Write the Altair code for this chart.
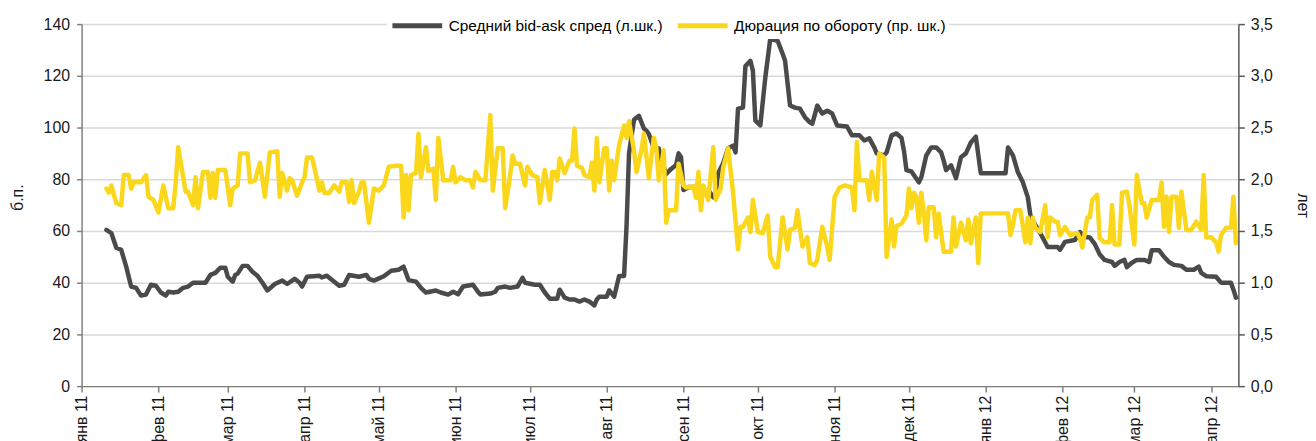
import altair as alt
import pandas as pd

FONT = "'Liberation Sans', Arial, sans-serif"
FS = 16
LEGEND_FS = 15.5

SPREAD_NAME = "Средний bid-ask спред  (л.шк.)"
DUR_NAME = "Дюрация по обороту (пр. шк.)"
MONTHS = ["янв", "фев", "мар", "апр", "май", "июн", "июл", "авг", "сен", "окт", "ноя", "дек"]
TICK_MONTHS = [(2011, m) for m in range(1, 13)] + [(2012, m) for m in range(1, 5)]
LEFT_TICKS = [0, 20, 40, 60, 80, 100, 120, 140]
RIGHT_TICKS = [0.0, 0.5, 1.0, 1.5, 2.0, 2.5, 3.0, 3.5]

spread_dates = [
    "2011-01-11", "2011-01-13", "2011-01-15", "2011-01-17", "2011-01-19", "2011-01-21", "2011-01-23", "2011-01-25", "2011-01-27", "2011-01-29", "2011-01-31",
    "2011-02-02", "2011-02-04", "2011-02-05", "2011-02-07", "2011-02-09", "2011-02-11", "2011-02-13", "2011-02-15", "2011-02-17", "2011-02-20", "2011-02-22", "2011-02-24", "2011-02-26", "2011-02-28",
    "2011-03-01", "2011-03-03", "2011-03-04", "2011-03-05", "2011-03-07", "2011-03-09", "2011-03-11", "2011-03-13", "2011-03-15", "2011-03-17", "2011-03-20", "2011-03-23", "2011-03-25", "2011-03-28", "2011-03-30", "2011-03-31",
    "2011-04-02", "2011-04-07", "2011-04-08", "2011-04-10", "2011-04-15", "2011-04-17", "2011-04-19", "2011-04-23", "2011-04-26", "2011-04-27", "2011-04-29",
    "2011-05-03", "2011-05-06", "2011-05-09", "2011-05-11", "2011-05-13", "2011-05-16", "2011-05-18", "2011-05-20", "2011-05-24", "2011-05-26", "2011-05-29", "2011-05-31",
    "2011-06-02", "2011-06-04", "2011-06-08", "2011-06-10", "2011-06-11", "2011-06-15", "2011-06-17", "2011-06-18", "2011-06-21", "2011-06-23", "2011-06-26", "2011-06-28", "2011-06-29",
    "2011-07-03", "2011-07-05", "2011-07-07", "2011-07-09", "2011-07-12", "2011-07-13", "2011-07-15", "2011-07-17", "2011-07-19", "2011-07-21", "2011-07-23", "2011-07-25", "2011-07-27", "2011-07-28", "2011-07-29",
    "2011-08-01", "2011-08-02", "2011-08-04", "2011-08-06", "2011-08-08", "2011-08-09", "2011-08-10", "2011-08-12", "2011-08-14", "2011-08-16", "2011-08-17", "2011-08-18", "2011-08-20", "2011-08-22", "2011-08-23", "2011-08-25", "2011-08-27", "2011-08-29", "2011-08-30", "2011-08-31",
    "2011-09-01", "2011-09-03", "2011-09-06", "2011-09-07", "2011-09-09", "2011-09-11", "2011-09-13", "2011-09-14", "2011-09-15", "2011-09-17", "2011-09-19", "2011-09-21", "2011-09-22", "2011-09-23", "2011-09-25", "2011-09-26", "2011-09-28", "2011-09-29", "2011-09-30",
    "2011-10-02", "2011-10-04", "2011-10-06", "2011-10-09", "2011-10-11", "2011-10-12", "2011-10-14", "2011-10-16", "2011-10-18", "2011-10-20", "2011-10-22", "2011-10-23", "2011-10-25", "2011-10-27", "2011-10-29", "2011-10-31",
    "2011-11-02", "2011-11-06", "2011-11-08", "2011-11-11", "2011-11-13", "2011-11-15", "2011-11-17", "2011-11-18", "2011-11-21", "2011-11-22", "2011-11-24", "2011-11-26", "2011-11-28", "2011-11-29", "2011-11-30",
    "2011-12-02", "2011-12-05", "2011-12-06", "2011-12-08", "2011-12-10", "2011-12-12", "2011-12-14", "2011-12-15", "2011-12-16", "2011-12-18", "2011-12-20", "2011-12-22", "2011-12-24", "2011-12-26", "2011-12-28", "2011-12-30",
    "2012-01-09", "2012-01-10", "2012-01-12", "2012-01-14", "2012-01-16", "2012-01-18", "2012-01-19", "2012-01-21", "2012-01-23", "2012-01-26", "2012-01-30", "2012-01-31",
    "2012-02-02", "2012-02-06", "2012-02-08", "2012-02-10", "2012-02-12", "2012-02-14", "2012-02-16", "2012-02-18", "2012-02-21", "2012-02-22", "2012-02-24", "2012-02-26", "2012-02-27", "2012-02-29",
    "2012-03-02", "2012-03-05", "2012-03-07", "2012-03-08", "2012-03-11", "2012-03-13", "2012-03-15", "2012-03-17", "2012-03-20", "2012-03-22", "2012-03-25", "2012-03-27", "2012-03-28", "2012-03-30",
    "2012-04-03", "2012-04-05", "2012-04-09", "2012-04-10", "2012-04-11",
]
spread_values = [
    60.4, 59.2, 53.5, 52.7, 46.2, 38.5, 38.0, 35.0, 35.4, 39.2, 38.8,
    36.2, 35.0, 36.5, 36.2, 36.5, 38.0, 38.5, 40.0, 40.0, 40.0, 43.0, 43.8, 45.8, 45.8,
    42.3, 40.4, 43.0, 43.5, 46.5, 46.5, 44.2, 42.7, 40.0, 37.0, 39.5, 40.8, 39.5, 41.5, 40.0, 38.5,
    42.3, 42.7, 42.0, 42.7, 38.8, 39.2, 43.0, 42.3, 43.0, 41.5, 40.8,
    42.5, 44.6, 45.0, 46.2, 41.0, 40.4, 38.0, 36.2, 37.0, 36.2, 35.4, 36.5,
    35.5, 38.5, 39.2, 36.5, 35.4, 35.8, 36.5, 38.0, 38.5, 38.0, 38.5, 41.9, 40.0,
    39.2, 39.2, 36.2, 33.8, 33.8, 37.3, 34.2, 33.5, 33.5, 32.7, 33.5, 32.7, 31.2, 33.5, 34.6,
    34.6, 37.0, 34.6, 42.6, 42.6, 62.0, 90.0, 103.0, 104.5, 99.6, 98.8, 97.5, 92.0, 92.0, 87.3, 82.0, 84.0, 85.5, 90.0, 88.5,
    75.8, 77.0, 77.0, 73.0, 74.6, 75.8, 73.0, 74.0, 82.3, 86.2, 92.0, 93.0, 90.4, 107.3, 107.7, 123.8, 125.8, 122.0, 102.7,
    100.8, 119.2, 134.2, 133.5, 128.5, 125.8, 108.5, 107.7, 107.3, 104.0, 102.0, 101.5, 108.5, 105.4, 106.5, 105.4,
    100.8, 100.4, 97.0, 97.0, 95.0, 95.8, 92.3, 90.0, 89.2, 90.4, 97.0, 97.7, 96.0, 91.0, 83.5,
    83.0, 78.8, 80.8, 89.2, 92.3, 92.3, 90.4, 87.3, 83.5, 85.4, 80.4, 88.5, 90.0, 94.2, 96.5, 82.3,
    82.3, 92.3, 89.2, 82.7, 78.8, 73.0, 66.2, 62.3, 59.2, 53.8, 53.8, 52.7,
    55.8, 56.5, 59.6, 57.7, 57.5, 55.0, 51.0, 48.8, 48.0, 46.5, 48.0, 48.8, 46.0, 47.7,
    48.8, 48.8, 48.0, 52.5, 52.5, 50.0, 48.0, 46.9, 46.5, 45.0, 45.0, 46.2, 43.8, 42.5,
    42.3, 40.0, 40.0, 37.3, 34.2,
]

dur_dates = [
    "2011-01-11", "2011-01-12", "2011-01-13", "2011-01-15", "2011-01-17", "2011-01-18", "2011-01-20", "2011-01-21", "2011-01-22", "2011-01-25", "2011-01-27", "2011-01-28", "2011-01-30",
    "2011-02-01", "2011-02-03", "2011-02-05", "2011-02-07", "2011-02-08", "2011-02-09", "2011-02-12", "2011-02-13", "2011-02-15", "2011-02-16", "2011-02-17", "2011-02-19", "2011-02-21", "2011-02-22", "2011-02-23", "2011-02-24", "2011-02-25", "2011-02-28",
    "2011-03-02", "2011-03-03", "2011-03-05", "2011-03-06", "2011-03-09", "2011-03-10", "2011-03-12", "2011-03-14", "2011-03-16", "2011-03-18", "2011-03-21", "2011-03-22", "2011-03-23", "2011-03-25", "2011-03-26", "2011-03-27", "2011-03-29", "2011-03-31",
    "2011-04-01", "2011-04-02", "2011-04-04", "2011-04-05", "2011-04-07", "2011-04-08", "2011-04-09", "2011-04-11", "2011-04-13", "2011-04-15", "2011-04-16", "2011-04-18", "2011-04-19", "2011-04-20", "2011-04-21", "2011-04-23", "2011-04-24", "2011-04-25", "2011-04-27", "2011-04-29",
    "2011-05-01", "2011-05-03", "2011-05-05", "2011-05-08", "2011-05-10", "2011-05-11", "2011-05-12", "2011-05-13", "2011-05-14", "2011-05-16", "2011-05-17", "2011-05-18", "2011-05-20", "2011-05-21", "2011-05-23", "2011-05-24", "2011-05-25", "2011-05-27", "2011-05-30", "2011-05-31",
    "2011-06-01", "2011-06-03", "2011-06-05", "2011-06-07", "2011-06-08", "2011-06-09", "2011-06-11", "2011-06-13", "2011-06-15", "2011-06-16", "2011-06-18", "2011-06-20", "2011-06-21", "2011-06-23", "2011-06-24", "2011-06-25", "2011-06-27", "2011-06-29", "2011-06-30",
    "2011-07-02", "2011-07-04", "2011-07-05", "2011-07-07", "2011-07-09", "2011-07-10", "2011-07-11", "2011-07-12", "2011-07-13", "2011-07-14", "2011-07-15", "2011-07-17", "2011-07-18", "2011-07-19", "2011-07-20", "2011-07-22", "2011-07-23", "2011-07-25", "2011-07-26", "2011-07-27", "2011-07-28", "2011-07-29", "2011-07-31",
    "2011-08-01", "2011-08-02", "2011-08-03", "2011-08-04", "2011-08-06", "2011-08-08", "2011-08-09", "2011-08-10", "2011-08-12", "2011-08-13", "2011-08-15", "2011-08-16", "2011-08-18", "2011-08-19", "2011-08-20", "2011-08-21", "2011-08-22", "2011-08-24", "2011-08-25", "2011-08-26", "2011-08-29", "2011-08-30",
    "2011-09-01", "2011-09-02", "2011-09-05", "2011-09-06", "2011-09-07", "2011-09-08", "2011-09-09", "2011-09-11", "2011-09-13", "2011-09-14", "2011-09-16", "2011-09-17", "2011-09-19", "2011-09-21", "2011-09-23", "2011-09-24", "2011-09-25", "2011-09-27", "2011-09-28", "2011-09-29",
    "2011-10-01", "2011-10-03", "2011-10-05", "2011-10-06", "2011-10-08", "2011-10-09", "2011-10-11", "2011-10-13", "2011-10-14", "2011-10-16", "2011-10-17", "2011-10-19", "2011-10-21", "2011-10-22", "2011-10-24", "2011-10-25", "2011-10-27", "2011-10-29", "2011-10-30",
    "2011-11-01", "2011-11-03", "2011-11-05", "2011-11-08", "2011-11-09", "2011-11-10", "2011-11-11", "2011-11-14", "2011-11-15", "2011-11-16", "2011-11-18", "2011-11-19", "2011-11-21", "2011-11-22", "2011-11-24", "2011-11-25", "2011-11-26", "2011-11-28", "2011-11-30",
    "2011-12-01", "2011-12-02", "2011-12-03", "2011-12-04", "2011-12-05", "2011-12-06", "2011-12-07", "2011-12-08", "2011-12-09", "2011-12-11", "2011-12-12", "2011-12-13", "2011-12-15", "2011-12-18", "2011-12-19", "2011-12-20", "2011-12-22", "2011-12-24", "2011-12-25", "2011-12-26", "2011-12-28", "2011-12-29", "2011-12-30",
    "2012-01-10", "2012-01-11", "2012-01-12", "2012-01-13", "2012-01-15", "2012-01-17", "2012-01-18", "2012-01-19", "2012-01-20", "2012-01-21", "2012-01-23", "2012-01-25", "2012-01-26", "2012-01-27", "2012-01-29", "2012-01-30", "2012-01-31",
    "2012-02-02", "2012-02-04", "2012-02-07", "2012-02-08", "2012-02-09", "2012-02-11", "2012-02-12", "2012-02-13", "2012-02-15", "2012-02-16", "2012-02-18", "2012-02-20", "2012-02-21", "2012-02-22", "2012-02-24", "2012-02-25", "2012-02-27", "2012-02-28",
    "2012-03-01", "2012-03-02", "2012-03-04", "2012-03-05", "2012-03-06", "2012-03-08", "2012-03-11", "2012-03-12", "2012-03-13", "2012-03-14", "2012-03-15", "2012-03-16", "2012-03-18", "2012-03-19", "2012-03-20", "2012-03-22", "2012-03-24", "2012-03-26", "2012-03-28", "2012-03-29", "2012-03-30",
    "2012-04-01", "2012-04-03", "2012-04-04", "2012-04-05", "2012-04-07", "2012-04-09", "2012-04-10", "2012-04-11",
]
dur_values = [
    1.91, 1.87, 1.94, 1.77, 1.75, 2.04, 2.04, 1.91, 1.97, 1.97, 2.04, 1.83, 1.80,
    1.68, 1.94, 1.72, 1.72, 1.97, 2.31, 1.88, 1.88, 1.75, 2.02, 1.72, 2.07, 2.07, 1.82, 2.06, 1.82, 2.09, 2.09,
    1.75, 1.91, 1.94, 2.25, 2.25, 1.97, 1.99, 2.16, 1.83, 2.26, 2.27, 1.83, 2.06, 1.89, 2.01, 1.99, 1.84, 1.97,
    2.02, 2.21, 2.21, 2.11, 1.89, 1.97, 1.87, 1.87, 1.94, 1.88, 1.97, 1.97, 1.78, 1.99, 1.77, 1.88, 1.97, 1.97, 1.58, 1.91,
    1.89, 1.94, 2.12, 2.13, 2.13, 1.63, 2.04, 1.70, 2.04, 2.06, 2.44, 2.02, 2.31, 2.08, 2.10, 1.80, 2.40, 1.99, 1.99, 2.12,
    1.97, 2.02, 1.99, 1.99, 1.92, 2.07, 1.99, 1.99, 2.62, 1.89, 2.30, 2.30, 1.72, 2.04, 2.23, 2.15, 2.15, 1.94, 2.12,
    2.04, 2.02, 1.77, 2.09, 1.80, 2.07, 2.07, 1.99, 2.20, 2.13, 2.06, 2.18, 2.18, 2.49, 2.13, 2.11, 2.04, 2.02, 2.16, 1.89, 2.40, 1.97, 2.30,
    2.30, 1.89, 2.18, 1.99, 2.33, 2.52, 2.40, 2.56, 2.28, 2.07, 2.28, 2.44, 2.01, 2.21, 2.40, 2.31, 1.99, 2.28, 1.58, 1.70, 1.70, 2.15,
    1.94, 1.92, 1.93, 1.82, 2.07, 1.70, 1.94, 1.80, 2.31, 1.80, 1.91, 2.11, 2.30, 1.87, 1.32, 1.54, 1.54, 1.63, 1.49, 1.80,
    1.49, 1.48, 1.65, 1.25, 1.15, 1.15, 1.63, 1.32, 1.51, 1.53, 1.70, 1.35, 1.44, 1.19, 1.17, 1.22, 1.54, 1.35, 1.22,
    1.83, 1.92, 1.94, 1.92, 1.70, 2.36, 1.99, 1.99, 1.80, 2.07, 1.80, 2.25, 2.21, 1.25, 1.61, 1.35, 1.55, 1.57, 1.65,
    1.91, 1.72, 1.87, 1.83, 1.58, 1.87, 1.68, 1.41, 1.73, 1.73, 1.44, 1.67, 1.30, 1.30, 1.63, 1.35, 1.58, 1.41, 1.61, 1.38, 1.63, 1.19, 1.67,
    1.67, 1.46, 1.56, 1.70, 1.70, 1.39, 1.63, 1.38, 1.63, 1.53, 1.49, 1.75, 1.44, 1.63, 1.59, 1.59, 1.46,
    1.54, 1.46, 1.48, 1.43, 1.34, 1.63, 1.63, 1.80, 1.85, 1.43, 1.39, 1.39, 1.75, 1.37, 1.37, 1.87, 1.88, 1.75,
    1.37, 2.04, 1.77, 1.77, 1.63, 1.80, 1.80, 1.97, 1.54, 1.83, 1.49, 1.83, 1.83, 1.53, 1.88, 1.51, 1.51, 1.59, 1.51, 2.04, 1.44,
    1.44, 1.39, 1.30, 1.46, 1.53, 1.53, 1.83, 1.38,
]

assert len(spread_dates) == len(spread_values), (len(spread_dates), len(spread_values))
assert len(dur_dates) == len(dur_values), (len(dur_dates), len(dur_values))

spread_df = pd.DataFrame({"date": spread_dates, "v": spread_values, "s": SPREAD_NAME})
dur_df = pd.DataFrame({"date": dur_dates, "v": dur_values, "s": DUR_NAME})

DARK = "#4a4a4a"
YELLOW = "#fbd71c"
AXIS_GRAY = "#808080"

month_js = "[" + ",".join("'" + m + "'" for m in MONTHS) + "]"
x_label_expr = month_js + "[utcmonth(datum.value)] + ' ' + utcFormat(datum.value, '%y')"

x_enc = alt.X(
    "date:T",
    scale=alt.Scale(
        type="utc",
        domain=[alt.DateTime(year=2011, month=1, date=1, utc=True),
                alt.DateTime(year=2012, month=4, date=12, utc=True)],
    ),
    axis=alt.Axis(
        values=[alt.DateTime(year=y, month=m, date=1, utc=True) for y, m in TICK_MONTHS],
        labelExpr=x_label_expr,
        labelAngle=-90,
        labelOverlap=False,
        labelPadding=3,
        tickSize=6,
        grid=False,
        title=None,
        domainColor=AXIS_GRAY,
        tickColor=AXIS_GRAY,
    ),
)

color_enc = alt.Color(
    "s:N",
    scale=alt.Scale(domain=[SPREAD_NAME, DUR_NAME], range=[DARK, YELLOW]),
    legend=alt.Legend(
        orient="none",
        legendX=307,
        legendY=-29,
        direction="horizontal",
        title=None,
        symbolType="stroke",
        symbolSize=2500,
        symbolStrokeWidth=5,
        labelFont=FONT,
        labelFontSize=LEGEND_FS,
        labelColor="#000000",
        fillColor="white",
        padding=3,
        columnPadding=0,
        labelOffset=4,
        labelLimit=400,
    ),
)

spread_line = alt.Chart(spread_df).mark_line(strokeWidth=4.5, strokeJoin="round", strokeCap="round").encode(
    x=x_enc,
    y=alt.Y(
        "v:Q",
        scale=alt.Scale(domain=[0, 140], nice=False, zero=True),
        axis=alt.Axis(
            orient="left",
            values=LEFT_TICKS,
            title="б.п.",
            titleX=-64,
            titleY=174,
            titleAlign="center",
            titleBaseline="middle",
            titleAngle=270,
            tickSize=5,
            labelPadding=7,
            grid=True,
            gridColor="#d9d9d9",
            gridWidth=1.5,
            domainColor=AXIS_GRAY,
            tickColor=AXIS_GRAY,
        ),
    ),
    color=color_enc,
)

dur_line = alt.Chart(dur_df).mark_line(strokeWidth=4.5, strokeJoin="round", strokeCap="round").encode(
    x=x_enc,
    y=alt.Y(
        "v:Q",
        scale=alt.Scale(domain=[0, 3.5], nice=False, zero=True),
        axis=alt.Axis(
            orient="right",
            values=RIGHT_TICKS,
            labelExpr="replace(format(datum.value, '.1f'), '.', ',')",
            title="лет",
            titleX=64,
            titleY=182,
            titleAlign="center",
            titleBaseline="middle",
            titleAngle=90,
            tickSize=6,
            labelPadding=6,
            grid=False,
            domainColor="#595959",
            tickColor="#595959",
        ),
    ),
    color=color_enc,
)

chart = (
    alt.layer(spread_line, dur_line)
    .resolve_scale(y="independent")
    .properties(
        width=1163,
        height=364,
        autosize=alt.AutoSizeParams(type="none"),
        padding={"left": 74, "top": 15, "right": 70, "bottom": 54},
        background="white",
    )
    .configure_view(stroke=None)
    .configure_axis(
        labelFont=FONT,
        labelFontSize=FS,
        labelColor="#1a1a1a",
        titleFont=FONT,
        titleFontSize=FS,
        titleFontWeight="normal",
        titleColor="#1a1a1a",
        domainWidth=1.5,
        tickWidth=1.5,
    )
)

chart.save("out.html", embed_options={"renderer": "svg", "actions": False})
